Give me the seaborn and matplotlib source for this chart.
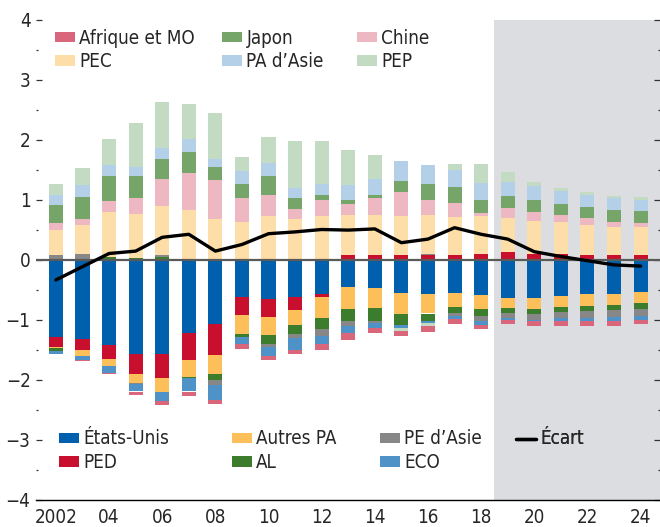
import numpy as np
import pandas as pd
import matplotlib
matplotlib.use('Agg')
import matplotlib.pyplot as plt
import matplotlib.patches as mpatches
import matplotlib.lines as mlines
from matplotlib import font_manager
import seaborn as sns

years = list(range(2002, 2025))

# valeurs (% du PIB mondial)
etats_unis = [-1.29, -1.33, -1.43, -1.58, -1.57, -1.23, -1.07, -0.62, -0.65, -0.62, -0.57, -0.46,
              -0.48, -0.56, -0.58, -0.56, -0.59, -0.64, -0.64, -0.61, -0.58, -0.58, -0.54]
ped = [-0.16, -0.17, -0.23, -0.32, -0.40, -0.45, -0.52, -0.30, -0.30, -0.22, -0.05, 0.07,
       0.08, 0.08, 0.08, 0.08, 0.10, 0.12, 0.10, 0.10, 0.08, 0.07, 0.07]
autres_pa = [-0.03, -0.10, -0.12, -0.15, -0.23, -0.28, -0.32, -0.32, -0.30, -0.25, -0.35, -0.37,
             -0.33, -0.35, -0.32, -0.23, -0.23, -0.17, -0.18, -0.18, -0.20, -0.18, -0.18]
al = [-0.05, 0.0, 0.05, 0.03, 0.05, -0.02, -0.10, -0.05, -0.15, -0.15, -0.18, -0.20,
      -0.22, -0.18, -0.12, -0.10, -0.12, -0.08, -0.08, -0.08, -0.07, -0.08, -0.10]
pe_asie = [0.07, 0.10, 0.0, -0.03, 0.02, 0.0, -0.08, 0.0, -0.05, -0.07, -0.13, -0.07,
           -0.03, 0.0, 0.02, -0.05, -0.08, -0.08, -0.10, -0.10, -0.12, -0.12, -0.12]
eco = [-0.05, -0.07, -0.11, -0.12, -0.15, -0.22, -0.25, -0.12, -0.15, -0.20, -0.13, -0.12,
       -0.08, -0.05, -0.03, -0.05, -0.07, -0.03, -0.03, -0.05, -0.05, -0.07, -0.07]
pec = [0.42, 0.48, 0.75, 0.73, 0.83, 0.82, 0.67, 0.63, 0.72, 0.67, 0.72, 0.68,
       0.67, 0.65, 0.64, 0.63, 0.63, 0.57, 0.55, 0.52, 0.50, 0.48, 0.47]
chine = [0.12, 0.10, 0.17, 0.27, 0.45, 0.62, 0.65, 0.40, 0.35, 0.18, 0.28, 0.18,
         0.28, 0.40, 0.25, 0.23, 0.05, 0.17, 0.15, 0.13, 0.12, 0.08, 0.07]
japon = [0.30, 0.37, 0.42, 0.37, 0.33, 0.35, 0.23, 0.23, 0.33, 0.17, 0.08, 0.07,
         0.05, 0.18, 0.27, 0.27, 0.22, 0.20, 0.20, 0.18, 0.18, 0.20, 0.20]
pa_asie = [0.17, 0.20, 0.19, 0.15, 0.18, 0.22, 0.13, 0.22, 0.21, 0.18, 0.18, 0.24,
           0.27, 0.33, 0.32, 0.28, 0.27, 0.24, 0.22, 0.22, 0.20, 0.20, 0.18]
pep = [0.18, 0.28, 0.43, 0.72, 0.77, 0.58, 0.77, 0.23, 0.43, 0.77, 0.72, 0.58,
       0.40, -0.05, -0.05, 0.10, 0.32, 0.16, 0.08, 0.05, 0.05, 0.03, 0.05]
afrique_mo = [0.0, -0.02, -0.02, -0.05, -0.07, -0.07, -0.07, -0.08, -0.07, -0.07, -0.10, -0.12,
              -0.08, -0.08, -0.10, -0.08, -0.07, -0.08, -0.08, -0.08, -0.08, -0.07, -0.07]
ecart = [-0.34, -0.12, 0.10, 0.14, 0.37, 0.42, 0.14, 0.25, 0.43, 0.46, 0.50, 0.49,
         0.51, 0.28, 0.34, 0.53, 0.42, 0.34, 0.13, 0.05, -0.02, -0.09, -0.11]

# ordre d'empilement (depuis zéro)
series = [
    ('États-Unis', etats_unis, '#0060ad'),
    ('PED', ped, '#c8102e'),
    ('Autres PA', autres_pa, '#fdbf5a'),
    ('AL', al, '#3b7d2d'),
    ("PE d’Asie", pe_asie, '#878787'),
    ('ECO', eco, '#4f92c8'),
    ('PEC', pec, '#fddea8'),
    ('Chine', chine, '#eeb8c3'),
    ('Japon', japon, '#76a56a'),
    ("PA d’Asie", pa_asie, '#b4d0e8'),
    ('PEP', pep, '#c4dbc3'),
    ('Afrique et MO', afrique_mo, '#d9667a'),
]
colors = {name: c for name, _, c in series}

sns.set_style('white')
installed = {f.name for f in font_manager.fontManager.ttflist}
if 'Liberation Sans Narrow' in installed:
    plt.rcParams['font.family'] = ['Liberation Sans Narrow', 'DejaVu Sans']
    fs = 15.5
else:
    plt.rcParams['font.family'] = ['DejaVu Sans']
    plt.rcParams['font.stretch'] = 'condensed'
    fs = 13.5

fig = plt.figure(figsize=(6.6, 5.27), dpi=100)
ax = fig.add_axes([36 / 660, 27.5 / 527, 624 / 660, 480 / 527])

ax.axvspan(2018.5, 2030, color='#dcdde0', lw=0, zorder=0)

x = np.array(years)
pos_bottom = np.zeros(len(years))
neg_bottom = np.zeros(len(years))
for name, vals, c in series:
    v = np.array(vals)
    pos = np.where(v > 0, v, 0)
    neg = np.where(v < 0, v, 0)
    ax.bar(x, pos, bottom=pos_bottom, width=0.53, color=c, lw=0, zorder=2)
    ax.bar(x, neg, bottom=neg_bottom, width=0.53, color=c, lw=0, zorder=2)
    pos_bottom += pos
    neg_bottom += neg

ax.axhline(0, color='#5a5a5a', lw=1.6, zorder=3)

df = pd.DataFrame({'annee': years, 'ecart': ecart})
sns.lineplot(data=df, x='annee', y='ecart', color='black', lw=2.4, ax=ax, zorder=4)

ax.set_xlim(2001.25, 2024.73)
ax.set_ylim(-4, 4)
ax.set_xlabel('')
ax.set_ylabel('')
for s in ['top', 'left', 'right']:
    ax.spines[s].set_visible(False)
ax.spines['bottom'].set_color('black')
ax.spines['bottom'].set_linewidth(1.0)

ax.set_xticks(years)
ax.set_xticklabels(['2002' if y == 2002 else (f'{y % 100:02d}' if y % 2 == 0 else '') for y in years])
ax.set_yticks(range(-4, 5))
ax.set_yticks(np.arange(-3.5, 4, 1.0), minor=True)
ax.tick_params(axis='x', direction='in', length=5, width=0.9, color='black', pad=6, labelsize=fs)
ax.tick_params(axis='y', which='major', direction='in', length=4.5, width=0.9, color='#333333',
               right=True, left=True, pad=4, labelsize=fs)
ax.tick_params(axis='y', which='minor', direction='in', length=1.6, width=0.9, color='#333333',
               right=True, left=True)


def col_legend(names, x_px, y_px):
    handles = []
    for n in names:
        if n == 'Écart':
            handles.append(mlines.Line2D([], [], color='black', lw=2.4))
        else:
            handles.append(mpatches.Patch(color=colors[n], lw=0))
    leg = ax.legend(handles, names, loc='upper left',
                    bbox_to_anchor=(x_px / 660, 1 - y_px / 527), bbox_transform=fig.transFigure,
                    frameon=False, fontsize=fs, borderpad=0, borderaxespad=0,
                    handlelength=1.05, handleheight=0.5, handletextpad=0.25, labelspacing=0.24)
    ax.add_artist(leg)


col_legend(['Afrique et MO', 'PEC'], 55, 28.5)
col_legend(['Japon', "PA d’Asie"], 222, 28.5)
col_legend(['Chine', 'PEP'], 357, 28.5)
col_legend(['États-Unis', 'PED'], 59, 429.5)
col_legend(['Autres PA', 'AL'], 232, 429.5)
col_legend(["PE d’Asie", 'ECO'], 380, 429.5)
col_legend(['Écart'], 516, 429.5)

fig.savefig('out.png', dpi=100)
